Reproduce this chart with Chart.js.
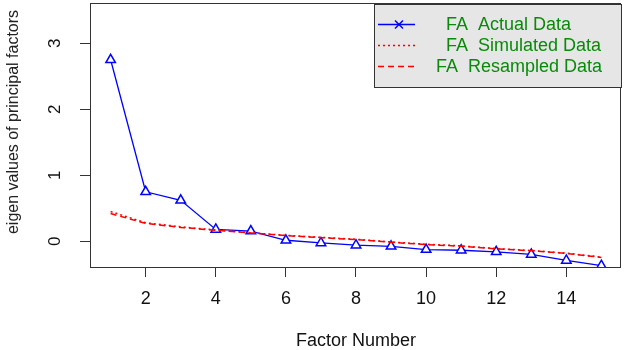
<!DOCTYPE html>
<html lang="en">
<head>
  <meta charset="UTF-8">
  <title>Scree plot - parallel analysis</title>
  <script src="https://cdn.jsdelivr.net/npm/chart.js"></script>
  <style>
    body {
      margin: 0;
      background: #fff;
    }
    #wrap {
      width: 624px;
      height: 350px;
    }
  </style>
</head>
<body>
  <div id="wrap"><canvas id="scree" width="624" height="350"></canvas></div>

  <script>
    // values
    const factors = [1, 2, 3, 4, 5, 6, 7, 8, 9, 10, 11, 12, 13, 14, 15];
    const actualData = [2.75, 0.75, 0.62, 0.18, 0.155, 0.015, -0.025, -0.06, -0.076, -0.126, -0.136, -0.16, -0.2, -0.29, -0.37];
    const simulatedData = [0.45, 0.28, 0.22, 0.17, 0.13, 0.09, 0.06, 0.03, -0.01, -0.045, -0.07, -0.11, -0.14, -0.18, -0.24];
    const resampledData = [0.42, 0.27, 0.21, 0.165, 0.125, 0.085, 0.055, 0.025, -0.015, -0.05, -0.075, -0.115, -0.145, -0.185, -0.245];
    const xTickValues = [2, 4, 6, 8, 10, 12, 14];
    const yTickValues = [0, 1, 2, 3];
    const legendLabels = [' FA  Actual Data', ' FA  Simulated Data', 'FA  Resampled Data'];

    const FONT = '"Liberation Sans", Arial, sans-serif';

    const toPoints = vals => factors.map((f, i) => ({ x: f, y: vals[i] }));

    // box around the plot, rotated y title and the grey legend (R base graphics look)
    const rStyle = {
      id: 'rStyle',
      afterDraw(chart) {
        const { ctx, chartArea: a } = chart;
        ctx.save();

        ctx.strokeStyle = '#333';
        ctx.lineWidth = 1;
        ctx.strokeRect(a.left - 0.5, a.top + 0.5, a.right - a.left, a.bottom - a.top);

        ctx.fillStyle = '#222';
        ctx.font = '16px ' + FONT;
        ctx.textAlign = 'center';
        ctx.textBaseline = 'middle';
        ctx.translate(14, 122);
        ctx.rotate(-Math.PI / 2);
        ctx.fillText('eigen values of principal factors', 0, 0);
        ctx.setTransform(1, 0, 0, 1, 0, 0);

        // legend
        const lx = 374, ly = 4, lw = 247, lh = 83;
        ctx.fillStyle = '#e6e6e6';
        ctx.fillRect(lx, ly, lw, lh);
        ctx.strokeStyle = '#333';
        ctx.strokeRect(lx + 0.5, ly + 0.5, lw, lh);

        const rows = [24.5, 45.5, 66.5];
        const textX = [441, 441, 436];
        chart.data.datasets.forEach((ds, i) => {
          const y = rows[i];
          ctx.strokeStyle = ds.borderColor;
          ctx.lineWidth = 1.5;
          ctx.setLineDash(ds.borderDash || []);
          ctx.beginPath();
          ctx.moveTo(378, y);
          ctx.lineTo(415, y);
          ctx.stroke();
          ctx.setLineDash([]);
          if (i === 0) {
            ctx.beginPath();
            ctx.moveTo(395, y - 4); ctx.lineTo(403, y + 4);
            ctx.moveTo(395, y + 4); ctx.lineTo(403, y - 4);
            ctx.stroke();
          }
          ctx.fillStyle = '#0a8a0a';
          ctx.font = '18px ' + FONT;
          ctx.textAlign = 'left';
          ctx.textBaseline = 'middle';
          ctx.fillText(legendLabels[i], textX[i], y + 1);
        });

        ctx.restore();
      }
    };

    new Chart(document.getElementById('scree'), {
      type: 'line',
      data: {
        datasets: [
          {
            label: legendLabels[0],
            data: toPoints(actualData),
            borderColor: '#0000ff',
            borderWidth: 1.3,
            pointStyle: 'triangle',
            pointRadius: 5.5,
            pointBorderWidth: 1.5,
            pointBorderColor: '#0000ff',
            pointBackgroundColor: '#ffffff',
            clip: 0,
            order: 3
          },
          {
            label: legendLabels[1],
            data: toPoints(simulatedData),
            borderColor: '#ff0000',
            borderWidth: 1.5,
            borderDash: [2, 3],
            pointRadius: 0,
            order: 2
          },
          {
            label: legendLabels[2],
            data: toPoints(resampledData),
            borderColor: '#ff0000',
            borderWidth: 1.5,
            borderDash: [6, 4],
            pointRadius: 0,
            order: 1
          }
        ]
      },
      options: {
        responsive: false,
        animation: false,
        devicePixelRatio: 1,
        layout: {
          autoPadding: false,
          padding: { top: 3, right: 3, left: 0, bottom: 0 }
        },
        plugins: {
          legend: { display: false },
          tooltip: { enabled: false }
        },
        scales: {
          x: {
            type: 'linear',
            min: 0.44,
            max: 15.56,
            afterBuildTicks: s => { s.ticks = xTickValues.map(v => ({ value: v })); },
            afterFit: s => {
              s.height = 83;
              s.paddingLeft = 0;
              s.paddingRight = 0;
            },
            border: { display: false },
            grid: { drawOnChartArea: false, drawTicks: true, tickLength: 10, color: '#333' },
            ticks: {
              maxRotation: 0,
              autoSkip: false,
              padding: 11,
              color: '#111',
              font: { family: FONT, size: 18 }
            },
            title: {
              display: true,
              text: 'Factor Number',
              color: '#111',
              padding: { top: 0, bottom: 0 },
              font: { family: FONT, size: 18, lineHeight: 1 }
            }
          },
          y: {
            type: 'linear',
            min: -0.39,
            max: 3.61,
            afterBuildTicks: s => { s.ticks = yTickValues.map(v => ({ value: v })); },
            afterFit: s => {
              s.width = 91;
              s.paddingTop = 0;
              s.paddingBottom = 0;
            },
            border: { display: false },
            grid: { drawOnChartArea: false, drawTicks: true, tickLength: 11, color: '#333' },
            ticks: {
              minRotation: 90,
              maxRotation: 90,
              crossAlign: 'center',
              padding: 20,
              color: '#111',
              font: { family: FONT, size: 17 }
            }
          }
        }
      },
      plugins: [rStyle]
    });
  </script>
</body>
</html>
